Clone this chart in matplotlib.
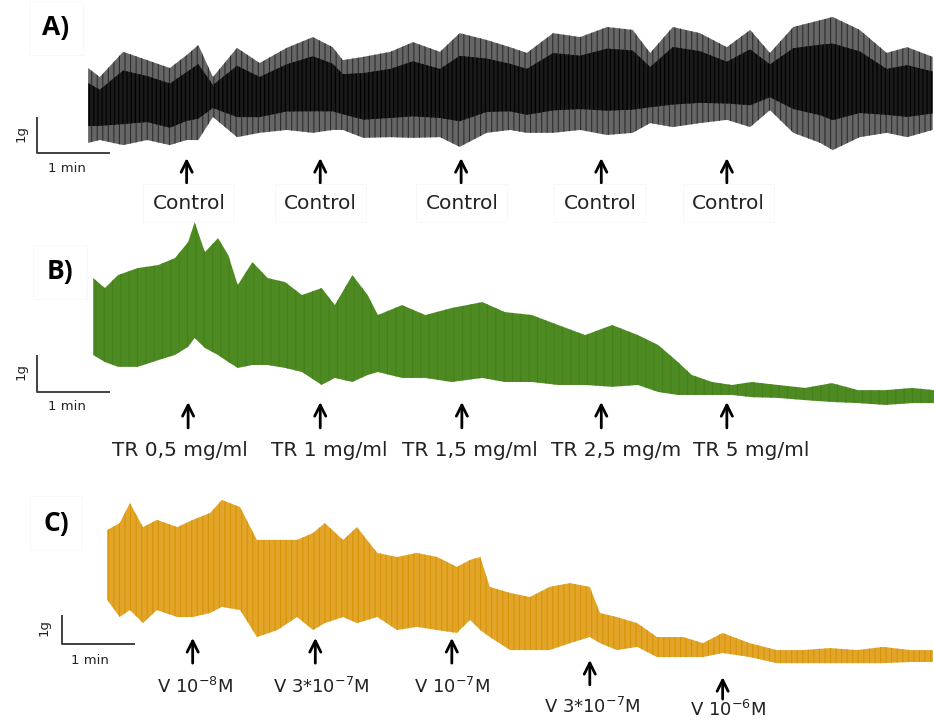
import matplotlib.pyplot as plt
import numpy as np

# ---- data (time in min from scale bar, force in g) ----
# A) control
a_time = np.array([0.70, 0.86, 1.18, 1.51, 1.82, 2.05, 2.21, 2.41, 2.74, 3.05,
                   3.42, 3.78, 4.05, 4.19, 4.47, 4.84, 5.15, 5.52, 5.79, 6.16,
                   6.48, 6.71, 7.07, 7.44, 7.81, 8.16, 8.40, 8.71, 9.08, 9.45,
                   9.77, 10.04, 10.36, 10.73, 10.90, 11.27, 11.64, 11.92, 12.27])
a_top = np.array([2.36, 2.11, 2.81, 2.58, 2.36, 2.72, 3.00, 2.11, 2.92, 2.50,
                  2.92, 3.22, 2.94, 2.58, 2.67, 2.81, 3.08, 2.81, 3.33, 3.14,
                  2.94, 2.78, 3.33, 3.22, 3.50, 3.42, 2.78, 3.50, 3.33, 2.94,
                  3.42, 2.78, 3.50, 3.69, 3.78, 3.42, 2.78, 2.94, 2.67])
a_bottom = np.array([0.28, 0.36, 0.22, 0.36, 0.22, 0.36, 0.36, 1.00, 0.44, 0.56,
                     0.64, 0.56, 0.64, 0.64, 0.42, 0.44, 0.42, 0.44, 0.17, 0.56,
                     0.64, 0.56, 0.56, 0.64, 0.50, 0.56, 0.83, 0.72, 0.83, 0.92,
                     0.72, 1.19, 0.56, 0.28, 0.08, 0.44, 0.56, 0.44, 0.64])
a_doses = [2.05, 3.88, 5.81, 7.73, 9.45]
a_labels = ["Control", "Control", "Control", "Control", "Control"]

# B) TR extract
b_time = np.array([0.77, 0.93, 1.11, 1.38, 1.66, 1.89, 2.07, 2.16, 2.30, 2.48,
                   2.62, 2.75, 2.95, 3.16, 3.40, 3.63, 3.90, 4.08, 4.32, 4.53,
                   4.67, 5.00, 5.32, 5.68, 6.10, 6.41, 6.78, 7.14, 7.51, 7.88,
                   8.23, 8.51, 8.78, 8.97, 9.25, 9.52, 9.79, 10.15, 10.52, 10.89,
                   11.25, 11.62, 11.99, 12.29])
b_top = np.array([3.08, 2.81, 3.16, 3.35, 3.43, 3.62, 4.05, 4.59, 3.78, 4.16,
                  3.70, 2.89, 3.51, 3.08, 2.97, 2.62, 2.81, 2.35, 3.16, 2.62,
                  2.08, 2.35, 2.08, 2.27, 2.43, 2.16, 2.08, 1.81, 1.54, 1.81,
                  1.54, 1.27, 0.81, 0.46, 0.27, 0.19, 0.27, 0.19, 0.11, 0.24,
                  0.05, 0.05, 0.11, 0.05])
b_bottom = np.array([1.00, 0.81, 0.68, 0.68, 0.86, 1.00, 1.22, 1.46, 1.19, 1.00,
                     0.81, 0.65, 0.73, 0.73, 0.65, 0.54, 0.19, 0.38, 0.27, 0.46,
                     0.54, 0.38, 0.38, 0.27, 0.38, 0.27, 0.27, 0.19, 0.19, 0.14,
                     0.19, 0.00, -0.08, -0.08, -0.08, -0.08, -0.14, -0.16, -0.22, -0.27,
                     -0.30, -0.35, -0.30, -0.30])
b_doses = [2.07, 3.88, 5.82, 7.73, 9.45]
b_labels = ["TR 0,5 mg/ml", "TR 1 mg/ml", "TR 1,5 mg/ml", "TR 2,5 mg/m", "TR 5 mg/ml"]

# C) verapamil
c_time = np.array([0.62, 0.79, 0.93, 1.11, 1.30, 1.58, 1.79, 2.03, 2.19, 2.44,
                   2.67, 2.95, 3.22, 3.44, 3.60, 3.85, 4.04, 4.32, 4.59, 4.86,
                   5.14, 5.41, 5.59, 5.73, 5.86, 6.14, 6.41, 6.68, 6.96, 7.23,
                   7.37, 7.60, 7.88, 8.15, 8.51, 8.78, 9.05, 9.42, 9.79, 10.15,
                   10.52, 10.89, 11.25, 11.62, 11.93])
c_top = np.array([3.93, 4.17, 4.86, 4.03, 4.28, 4.03, 4.28, 4.52, 4.97, 4.72,
                  3.59, 3.59, 3.59, 3.83, 4.17, 3.59, 4.03, 3.14, 3.00, 3.14,
                  3.00, 2.66, 2.90, 3.00, 1.97, 1.76, 1.62, 1.97, 2.10, 1.97,
                  1.07, 0.93, 0.72, 0.24, 0.24, 0.03, 0.38, 0.03, -0.21, -0.21,
                  -0.14, -0.21, -0.10, -0.21, -0.21])
c_bottom = np.array([1.52, 0.93, 1.17, 0.72, 1.17, 0.93, 0.93, 1.07, 1.28, 1.17,
                     0.24, 0.48, 0.93, 0.48, 0.72, 0.93, 0.72, 0.93, 0.48, 0.59,
                     0.48, 0.38, 0.83, 0.48, 0.24, -0.21, -0.21, -0.21, 0.03, 0.24,
                     0.03, -0.21, -0.10, -0.45, -0.45, -0.45, -0.31, -0.45, -0.66, -0.66,
                     -0.66, -0.66, -0.66, -0.62, -0.62])
c_doses = [1.79, 3.47, 5.34, 7.23, 9.05]
c_labels = [r"V 10$^{-8}$M", r"V 3*10$^{-7}$M", r"V 10$^{-7}$M",
            r"V 3*10$^{-7}$M", r"V 10$^{-6}$M"]

W, H = 934, 725
plt.rcParams['hatch.linewidth'] = 0.8
fig = plt.figure(figsize=(W / 100, H / 100), dpi=100)

faint_box = dict(boxstyle='square,pad=0.45', facecolor='white', edgecolor='#f8f8f8', lw=0.7)


def make_panel(top_px, bot_px, bar_x, bar_y, px_min, px_g):
    ax = fig.add_axes([0, 1 - bot_px / H, 1, (bot_px - top_px) / H])
    ax.set_xlim(-bar_x / px_min, (W - bar_x) / px_min)
    ax.set_ylim((bar_y - bot_px) / px_g, (bar_y - top_px) / px_g)
    ax.axis('off')
    # 1 min / 1 g scale bar
    ax.plot([0, 0, 1], [1, 0, 0], color='#333333', lw=1.3, solid_capstyle='butt')
    return ax


def doses(ax, times, labels, head, tail, lab_y, lab_x, fs, box=None, va='center'):
    for i, t in enumerate(times):
        h = head[i] if np.ndim(head) else head
        tl = tail[i] if np.ndim(tail) else tail
        ly = lab_y[i] if np.ndim(lab_y) else lab_y
        ax.annotate('', xy=(t, h), xytext=(t, tl),
                    arrowprops=dict(arrowstyle='->', lw=2.0, color='black',
                                    mutation_scale=20, shrinkA=0, shrinkB=0))
        ax.text(lab_x[i], ly, labels[i], ha='center', va=va, fontsize=fs,
                color='#222222', bbox=box)


# ---- A ----
axA = make_panel(0, 215, 37, 153, 73, 36)
axA.fill_between(a_time, a_bottom, a_top, facecolor='#666666',
                 edgecolor='#2e2e2e', hatch='|||', lw=0)
mid = (a_top + a_bottom) / 2
half = (a_top - a_bottom) / 2
axA.fill_between(a_time, mid - 0.55 * half, mid + 0.6 * half, facecolor='#1a1a1a',
                 edgecolor='#000000', hatch='||||', lw=0)
doses(axA, a_doses, a_labels, -0.14, -0.83, -1.39,
      [2.08, 3.88, 5.82, 7.71, 9.47], 14.5, box=faint_box)

# ---- B ----
axB = make_panel(215, 470, 37, 392, 73, 37)
axB.fill_between(b_time, b_bottom, b_top, facecolor='#4d8a21',
                 edgecolor='#45801c', hatch='||', lw=0)
doses(axB, b_doses, b_labels, -0.27, -0.97, -1.57,
      [1.96, 4.01, 5.93, 7.93, 9.79], 14.5)

# ---- C ----
axC = make_panel(470, 725, 62, 644, 73, 29)
axC.fill_between(c_time, c_bottom, c_top, facecolor='#e2a52a',
                 edgecolor='#d69406', hatch='|||', lw=0)
doses(axC, c_doses[:4], c_labels[:4],
      [0.21, 0.21, 0.21, -0.55], [-0.66, -0.66, -0.66, -1.41],
      [-1.48, -1.48, -1.48, -2.17],
      [1.82, 3.55, 5.34, 7.26], 13)
# last dose sits at the very bottom edge of the figure
doses(axC, c_doses[4:], c_labels[4:], -1.14, -1.90, -2.63, [9.12], 13, va='bottom')


# panel letters and scale bar labels (figure pixel positions)
def fig_txt(x, y, s, **kw):
    fig.text(x / W, 1 - y / H, s, **kw)


for (lx, ly, s) in [(56, 28, "A)"), (60, 272, "B)"), (56, 523, "C)")]:
    fig_txt(lx, ly, s, fontsize=19, fontweight='bold', ha='center', va='center',
            family='Open Sans', bbox=dict(boxstyle='square,pad=0.5', facecolor='white',
                                          edgecolor='#f8f8f8', lw=0.7))
for (gx, gy, mx, my) in [(21, 134, 67, 168), (21, 372, 67, 407), (44, 628, 90, 660)]:
    fig_txt(gx, gy, "1g", fontsize=9.5, rotation=90, ha='center', va='center',
            color='#222222')
    fig_txt(mx, my, "1 min", fontsize=9.5, ha='center', va='center', color='#222222')

fig.savefig('out.png', dpi=100)
